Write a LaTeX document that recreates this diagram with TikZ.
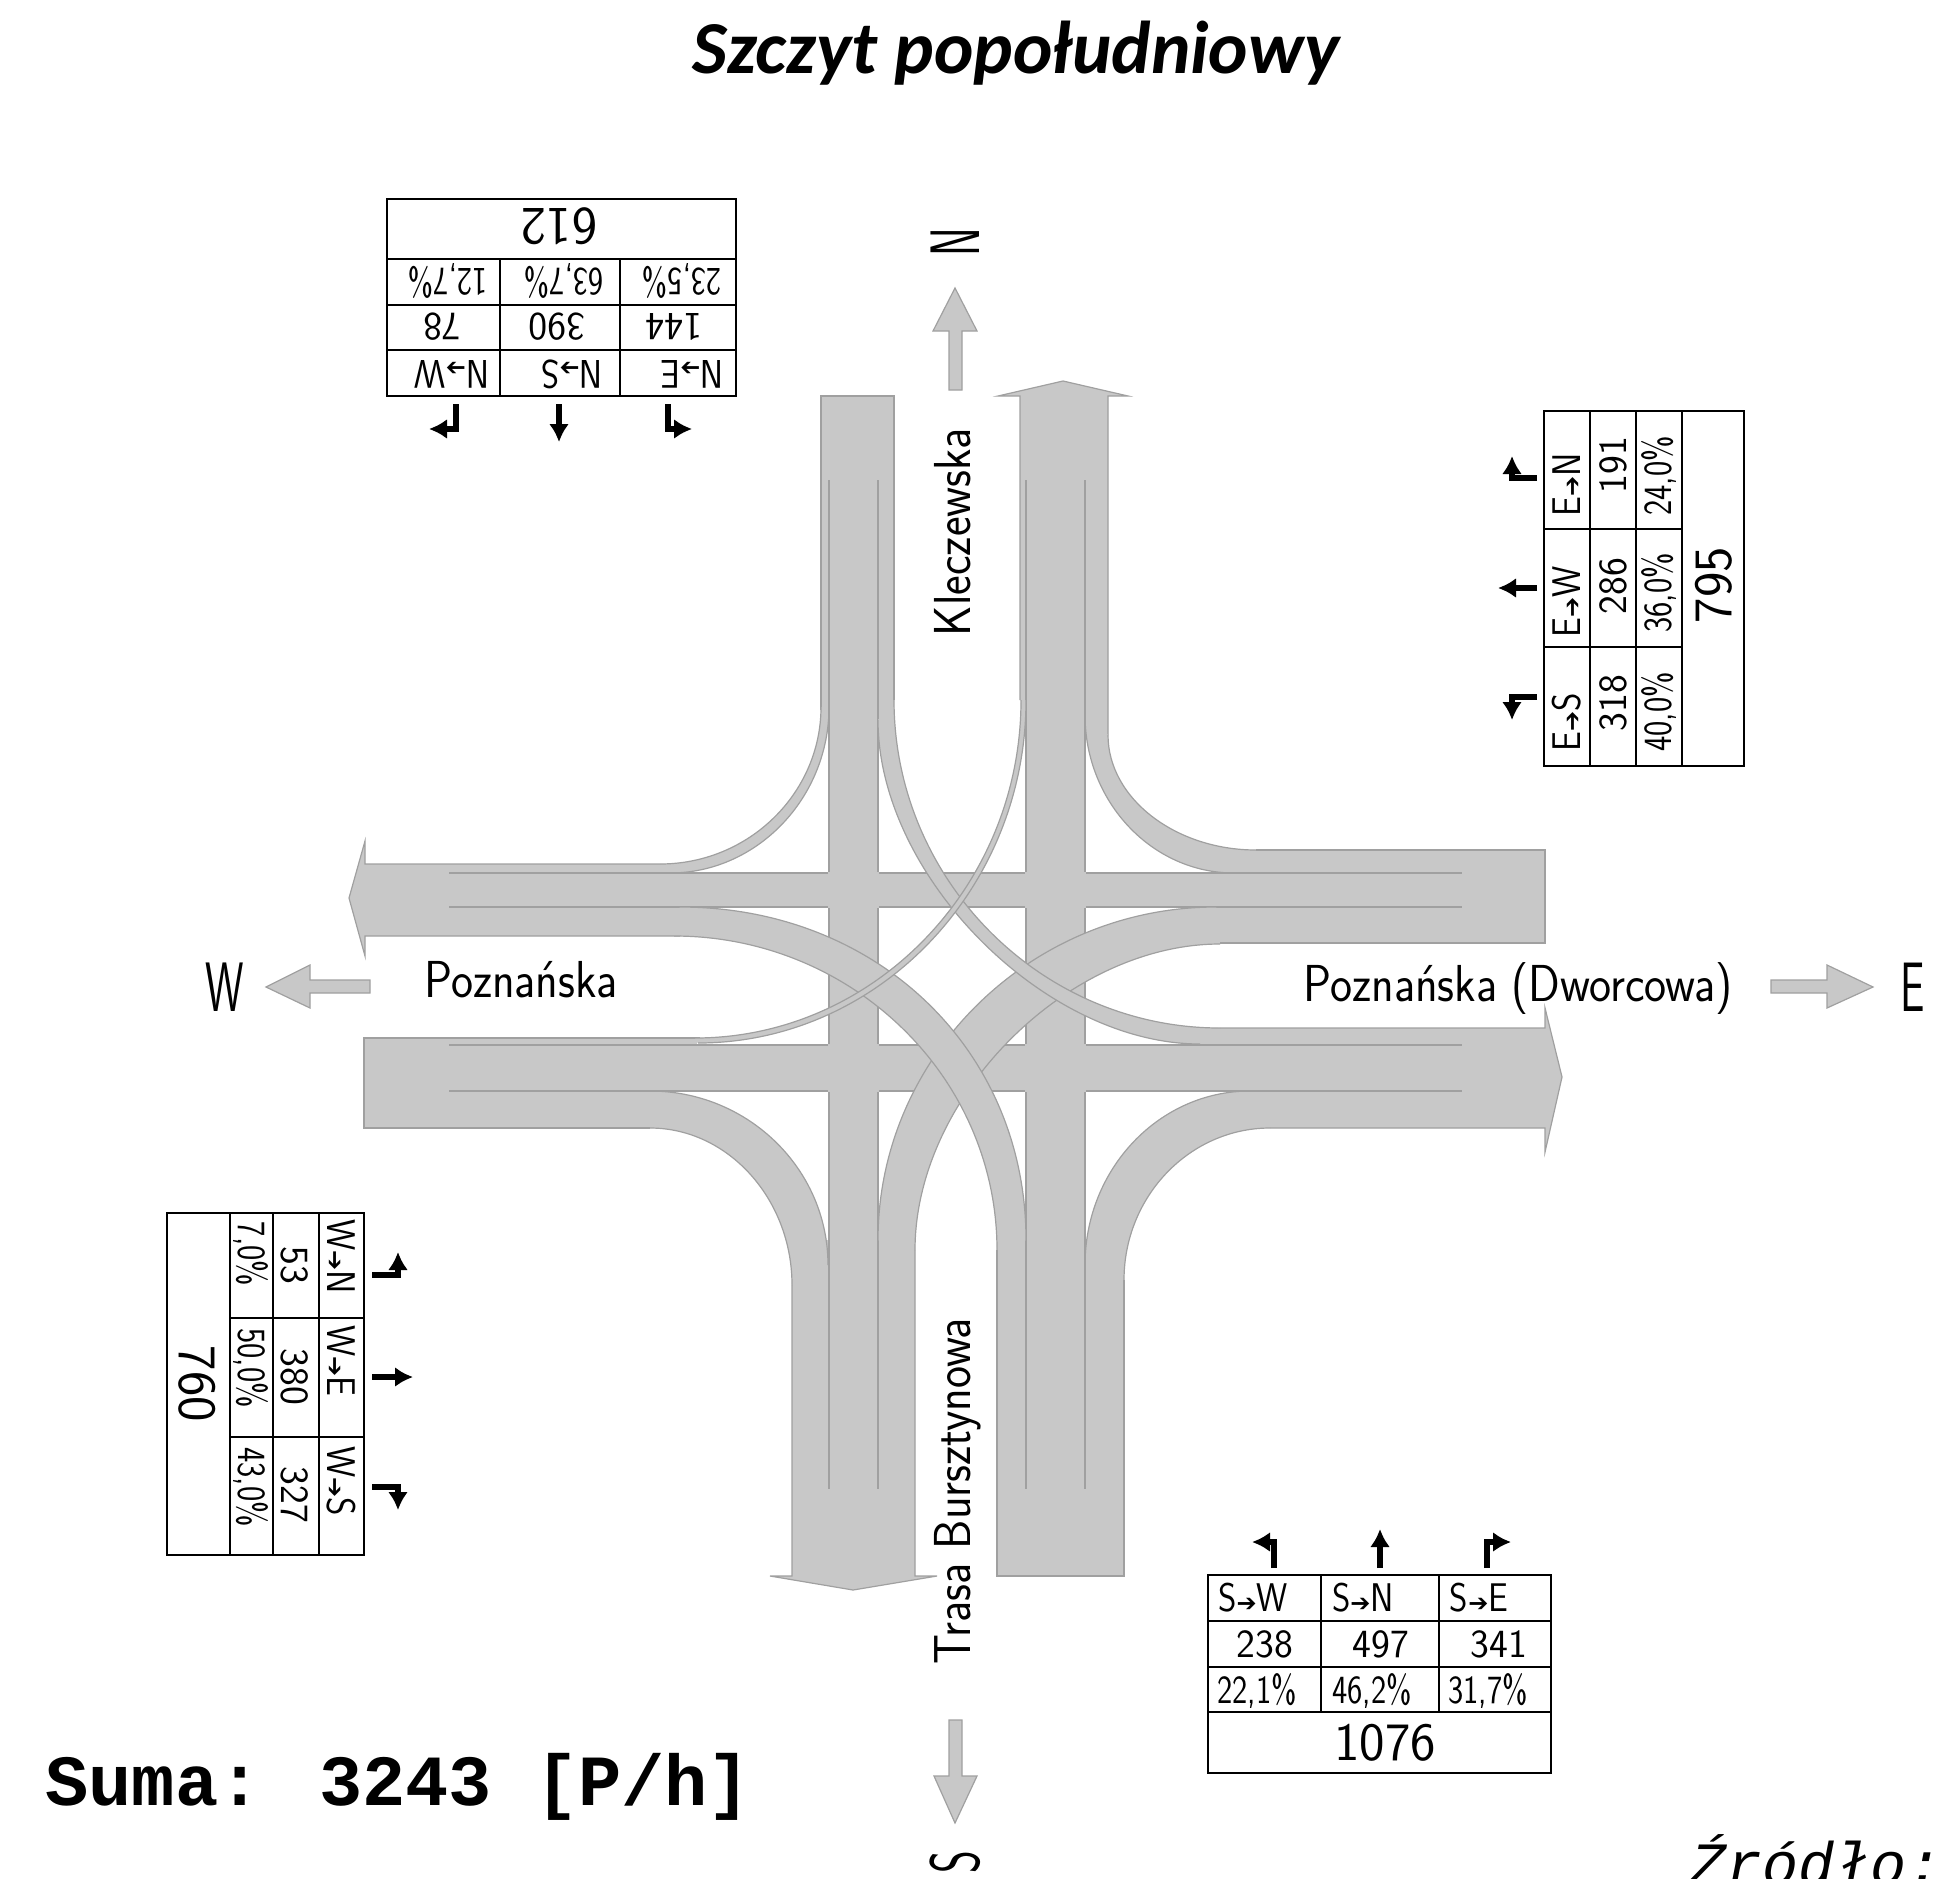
\documentclass[tikz,border=0pt]{standalone}
\usepackage{fontspec}
\usetikzlibrary{arrows.meta}
\setmainfont{Carlito}
\newfontfamily\cadfont{Latin Modern Sans}
\newfontfamily\cadstreet[FakeStretch=.9]{Latin Modern Sans}
\newfontfamily\caddir[FakeStretch=.88]{Latin Modern Sans}
\newfontfamily\cadnarrow[FakeStretch=.81]{Latin Modern Sans}
\newfontfamily\cadtall[FakeStretch=.62]{Latin Modern Sans}
\newfontfamily\arrowfont{DejaVu Sans}
\newfontfamily\monofont{Liberation Mono}
\definecolor{roadfill}{HTML}{C8C8C8}
\definecolor{roadedge}{HTML}{A0A0A0}
\newcommand{\dirto}[2]{{\caddir #1}{\arrowfont\fontsize{12}{12}\selectfont ➔}{\caddir #2}}
\tikzset{
  lane/.style={fill=roadfill,draw=roadedge,line width=.6pt},
  lanefill/.style={fill=roadfill},
  laneedge/.style={draw=roadedge,line width=.6pt},
  rule/.style={draw=black,line width=1.1pt},
  turn/.style={draw=black,line width=3.4pt,-{Latex[length=9pt,width=10pt]}},
  cell/.style={inner sep=0pt,text height=13.5pt,text depth=0pt,font=\cadfont\fontsize{20}{24}\selectfont},
  pct/.style={inner sep=0pt,text height=13.5pt,text depth=0pt,font=\cadnarrow\fontsize{20}{24}\selectfont},
  total/.style={inner sep=0pt,text height=18pt,text depth=0pt,font=\cadfont\fontsize{27}{30}\selectfont},
  street/.style={inner sep=0pt,text height=18pt,text depth=0pt,font=\cadstreet\fontsize{26}{30}\selectfont},
  compass/.style={inner sep=0pt,text height=24pt,text depth=0pt,font=\cadtall\fontsize{35}{40}\selectfont}
}
\begin{document}
\begin{tikzpicture}[x=.5pt,y=-.5pt]
  \useasboundingbox (0,0) rectangle (1946,1878);
  %%% Joints where approaches meet the turns
  \fill[lanefill] (878,700) rectangle (894,722);
  \fill[lanefill] (650,864) rectangle (690,936);
  \fill[lanefill] (1215,850) rectangle (1270,943);
  \fill[lanefill] (1195,1028) rectangle (1280,1091);
  \fill[lanefill] (1250,1091) rectangle (1280,1128);
  \fill[lanefill] (792,1240) rectangle (915,1295);
  \fill[lanefill] (997,1240) rectangle (1124,1290);
  %%% Approaches with arrow heads
  \path[lane] (821,710) -- (821,396) -- (894,396) -- (894,700);
  \path[lane] (1020,700) -- (1020,396) -- (998,396) -- (1063,381) -- (1128,396) -- (1108,396) -- (1108,735);
  \path[lane] (660,864) -- (365,864) -- (365,841) -- (349,898) -- (365,956) -- (365,936) -- (680,936);
  \path[lane] (700,1038) -- (364,1038) -- (364,1128) -- (650,1128);
  \path[lane] (1256,850) -- (1545,850) -- (1545,943) -- (1220,943);
  \path[lane] (1220,1028) -- (1545,1028) -- (1545,1008) -- (1562,1077) -- (1545,1152) -- (1545,1128) -- (1270,1128);
  \path[lane] (792,1285) -- (792,1576) -- (770,1576) -- (853,1590) -- (937,1576) -- (915,1576) -- (915,1250);
  \path[lane] (997,1250) -- (997,1576) -- (1124,1576) -- (1124,1280);
  %%% Corner turns
  \fill[lanefill] (821,707) .. controls (821,793) and (749,864) .. (660,864) -- (670,873) .. controls (757,873) and (829,798) .. (829,707) -- cycle;
  \draw[laneedge] (821,707) .. controls (821,793) and (749,864) .. (660,864);
  \draw[laneedge] (829,707) .. controls (829,798) and (757,873) .. (670,873);
  \fill[lanefill] (1108,735) .. controls (1108,798) and (1175,850) .. (1256,850) -- (1234,873) .. controls (1152,873) and (1085,802) .. (1085,715) -- cycle;
  \draw[laneedge] (1108,735) .. controls (1108,798) and (1175,850) .. (1256,850);
  \draw[laneedge] (1085,715) .. controls (1085,802) and (1152,873) .. (1234,873);
  \fill[lanefill] (650,1091) .. controls (748,1091) and (828,1169) .. (828,1265) -- (792,1285) .. controls (792,1199) and (728,1128) .. (650,1128) -- cycle;
  \draw[laneedge] (650,1091) .. controls (748,1091) and (828,1169) .. (828,1265);
  \draw[laneedge] (650,1128) .. controls (728,1128) and (792,1199) .. (792,1285);
  \fill[lanefill] (1250,1091) .. controls (1159,1091) and (1085,1169) .. (1085,1265) -- (1124,1280) .. controls (1124,1196) and (1190,1128) .. (1270,1128) -- cycle;
  \draw[laneedge] (1250,1091) .. controls (1159,1091) and (1085,1169) .. (1085,1265);
  \draw[laneedge] (1270,1128) .. controls (1190,1128) and (1124,1196) .. (1124,1280);
  %%% Through lanes
  \fill[lanefill] (829,480) rectangle (878,1489);
  \fill[lanefill] (1026,480) rectangle (1085,1489);
  \fill[lanefill] (449,873) rectangle (1462,907);
  \fill[lanefill] (449,1045) rectangle (1462,1091);
  \foreach \x in {829,878,1026,1085}
    \draw[laneedge] (\x,480) -- (\x,1489);
  \foreach \y in {873,907,1045,1091}
    \draw[laneedge] (449,\y) -- (1462,\y);
  %%% No edges where through lanes cross
  \foreach \x/\xx in {829/878,1026/1085}
    \foreach \y/\yy in {873/907,1045/1091}
      \fill[lanefill] (\x-.7,\y-.7) rectangle (\xx+.7,\yy+.7);
  %%% Diagonal lanes, later ones lie on top
  \fill[lanefill] (1216,907) .. controls (1030,907) and (878,1057) .. (878,1240) -- (915,1250) .. controls (915,1097) and (1067,944) .. (1220,944) -- cycle;
  \draw[laneedge] (1216,907) .. controls (1030,907) and (878,1057) .. (878,1240);
  \draw[laneedge] (1220,944) .. controls (1067,944) and (915,1097) .. (915,1250);
  \fill[lanefill] (680,907) .. controls (877,907) and (1026,1050) .. (1026,1240) -- (997,1250) .. controls (997,1077) and (852,936) .. (674,936) -- cycle;
  \draw[laneedge] (680,907) .. controls (877,907) and (1026,1050) .. (1026,1240);
  \draw[laneedge] (674,936) .. controls (852,936) and (997,1077) .. (997,1250);
  \fill[lanefill] (894,700) .. controls (894,880) and (1041,1028) .. (1220,1028) -- (1200,1044) .. controls (1045,1044) and (878,876) .. (878,720) -- cycle;
  \draw[laneedge] (894,700) .. controls (894,880) and (1041,1028) .. (1220,1028);
  \draw[laneedge] (878,720) .. controls (878,876) and (1045,1044) .. (1200,1044);
  \fill[lanefill] (1021,700) .. controls (1021,886) and (874,1038) .. (695,1038) -- (698,1043) .. controls (878,1043) and (1026,889) .. (1026,700) -- cycle;
  \draw[laneedge] (1021,700) .. controls (1021,886) and (874,1038) .. (695,1038);
  \draw[laneedge] (1026,700) .. controls (1026,889) and (878,1043) .. (698,1043);
  %%% Compass arrows
  \path[lane] (949,390) -- (949,331) -- (933,331) -- (955,288) -- (977,331) -- (962,331) -- (962,390) -- cycle;
  \path[lane] (949,1720) -- (949,1776) -- (934,1776) -- (955,1823) -- (977,1776) -- (962,1776) -- (962,1720) -- cycle;
  \path[lane] (370,980) -- (310,980) -- (310,965) -- (266,987) -- (310,1008) -- (310,993) -- (370,993) -- cycle;
  \path[lane] (1771,980) -- (1827,980) -- (1827,965) -- (1873,987) -- (1827,1008) -- (1827,993) -- (1771,993) -- cycle;
  \node[compass,rotate=90] (north) at (955,242) {N};
  \node[compass] (west) at (225,987) {W};
  \node[compass] (east) at (1913,987) {E};
  \node[compass,rotate=90] (south) at (955,1862) {S};
  %%% Street names
  \node[street,rotate=90] (kleczewska) at (952,532) {Kleczewska};
  \node[street,rotate=90] (trasa) at (952,1491) {Trasa Bursztynowa};
  \node[street] (poznanska) at (521,979) {Poznańska};
  \node[street] (dworcowa) at (1518,983) {Poznańska (Dworcowa)};
  %%% North table, upside down
  \draw[rule] (387,199) rectangle (736,396);
  \foreach \y in {259,305,350}
    \draw[rule] (387,\y) -- (736,\y);
  \foreach \x in {500,620}
    \draw[rule] (\x,259) -- (\x,396);
  \node[total,rotate=180] (ntotal) at (559,227) {612};
  \foreach \x/\t in {448/{12,7\%},564/{63,7\%},682/{23,5\%}}
    \node[pct,rotate=180] at (\x,282) {\t};
  \foreach \x/\t in {442/78,557/390,674/144}
    \node[cell,rotate=180] at (\x,327) {\t};
  \foreach \x/\a in {452/W,572/S,692/E}
    \node[cell,rotate=180] at (\x,374) {\dirto{N}{\a}};
  \draw[turn] (456,404) -- (456,429) -- (429,429);
  \draw[turn] (559,404) -- (559,442);
  \draw[turn] (668,404) -- (668,429) -- (692,429);
  %%% East table
  \draw[rule] (1544,411) rectangle (1744,766);
  \foreach \x in {1590,1636,1682}
    \draw[rule] (\x,411) -- (\x,766);
  \foreach \y in {529,647}
    \draw[rule] (1544,\y) -- (1682,\y);
  \node[total,rotate=90] (etotal) at (1713,585) {795};
  \foreach \y/\a in {485/N,602/W,722/S}
    \node[cell,rotate=90] at (1567,\y) {\dirto{E}{\a}};
  \foreach \y/\t in {465/191,586/286,703/318}
    \node[cell,rotate=90] at (1613,\y) {\t};
  \foreach \y/\t in {476/{24,0\%},593/{36,0\%},712/{40,0\%}}
    \node[pct,rotate=90] at (1658,\y) {\t};
  \draw[turn] (1537,478) -- (1512,478) -- (1512,456);
  \draw[turn] (1537,588) -- (1498,588);
  \draw[turn] (1537,697) -- (1512,697) -- (1512,720);
  %%% West table
  \draw[rule] (167,1213) rectangle (364,1555);
  \foreach \x in {230,273,319}
    \draw[rule] (\x,1213) -- (\x,1555);
  \foreach \y in {1318,1437}
    \draw[rule] (230,\y) -- (364,\y);
  \node[total,rotate=-90] (wtotal) at (197,1384) {760};
  \foreach \y/\t in {1254/{7,0\%},1368/{50,0\%},1487/{43,0\%}}
    \node[pct,rotate=-90] at (252,\y) {\t};
  \foreach \y/\t in {1265/53,1377/380,1495/327}
    \node[cell,rotate=-90] at (295,\y) {\t};
  \foreach \y/\a in {1257/N,1361/E,1481/S}
    \node[cell,rotate=-90] at (341,\y) {\dirto{W}{\a}};
  \draw[turn] (372,1275) -- (398,1275) -- (398,1252);
  \draw[turn] (372,1377) -- (413,1377);
  \draw[turn] (372,1487) -- (398,1487) -- (398,1510);
  %%% South table
  \draw[rule] (1208,1575) rectangle (1551,1773);
  \foreach \y in {1621,1667,1712}
    \draw[rule] (1208,\y) -- (1551,\y);
  \foreach \x in {1321,1439}
    \draw[rule] (\x,1575) -- (\x,1712);
  \foreach \x/\a in {1253/W,1363/N,1479/E}
    \node[cell] at (\x,1598) {\dirto{S}{\a}};
  \foreach \x/\t in {1265/238,1381/497,1499/341}
    \node[cell] at (\x,1644) {\t};
  \foreach \x/\t in {1257/{22,1\%},1372/{46,2\%},1488/{31,7\%}}
    \node[pct] at (\x,1690) {\t};
  \node[total] (stotal) at (1385,1742) {1076};
  \draw[turn] (1274,1568) -- (1274,1542) -- (1252,1542);
  \draw[turn] (1380,1568) -- (1380,1529);
  \draw[turn] (1487,1568) -- (1487,1542) -- (1511,1542);
  %%% Title and notes
  \node[font=\bfseries\itshape\fontsize{37.4}{40}\selectfont,inner sep=0pt] (title) at (1016,53) {Szczyt popołudniowy};
  \node[font=\monofont\bfseries\fontsize{36}{40}\selectfont,inner sep=0pt,anchor=base west] (suma) at (45,1805) {Suma: 3243 [P/h]};
  \node[font=\monofont\itshape\fontsize{30}{34}\selectfont,inner sep=0pt,anchor=base west] (zrodlo) at (1690,1884) {Źródło:};
\end{tikzpicture}
\end{document}
